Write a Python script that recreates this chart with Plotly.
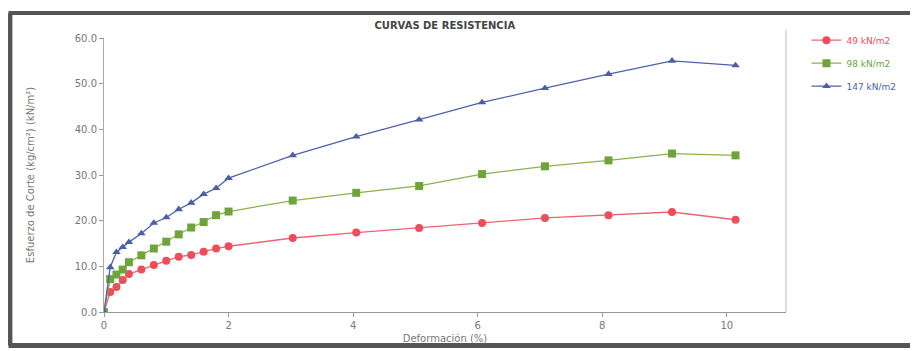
import plotly.graph_objects as go

# Deformación (%) for each series
x_vals = [0, 0.1, 0.2, 0.3, 0.4, 0.6, 0.8, 1.0, 1.2, 1.4, 1.6, 1.8, 2.0,
          3.03, 4.05, 5.06, 6.07, 7.08, 8.1, 9.12, 10.14]

# Esfuerzo de corte for each normal stress
s49 = [0, 4.4, 5.5, 7.0, 8.3, 9.3, 10.3, 11.2, 12.1, 12.5, 13.2, 13.9, 14.4,
       16.2, 17.4, 18.4, 19.5, 20.6, 21.2, 21.9, 20.2]
s98 = [0, 7.2, 8.2, 9.3, 10.9, 12.4, 13.9, 15.4, 17.0, 18.5, 19.7, 21.2, 22.0,
       24.4, 26.1, 27.6, 30.2, 31.9, 33.2, 34.7, 34.3]
s147 = [0, 9.8, 13.1, 14.2, 15.3, 17.2, 19.5, 20.7, 22.5, 23.9, 25.8, 27.1, 29.3,
        34.3, 38.4, 42.1, 45.9, 49.0, 52.1, 55.0, 54.0]

series_names = ["49 kN/m2", "98 kN/m2", "147 kN/m2"]
x_ticks = [0, 2, 4, 6, 8, 10]
y_ticks = [0, 10, 20, 30, 40, 50, 60]

styles = [
    dict(line="#ec6470", marker="#ee4d5a", symbol="circle", size=8),
    dict(line="#8ab34a", marker="#6ea43a", symbol="square", size=8),
    dict(line="#4d62ad", marker="#4a5fa8", symbol="triangle-up", size=7.5),
]

fig = go.Figure()
for i, (name, ys) in enumerate(zip(series_names, [s49, s98, s147])):
    st = styles[i]
    fig.add_trace(go.Scatter(
        x=x_vals, y=ys, mode="lines+markers",
        name=f"<span style='color:{st['marker']}'>{name}</span>",
        legendgroup=f"g{i}",
        line=dict(color=st["line"], width=1.3),
        marker=dict(color=st["marker"], symbol=st["symbol"], size=st["size"]),
    ))

fig.update_layout(
    width=910, height=343,
    margin=dict(l=96, r=132, t=30, b=39, autoexpand=False),
    paper_bgcolor="white", plot_bgcolor="white",
    font=dict(family="DejaVu Sans", size=10, color="#777"),
    title=dict(text="<b>CURVAS DE RESISTENCIA</b>", x=0.48, xanchor="center",
               y=0.95, yanchor="middle", automargin=False,
               font=dict(family="DejaVu Sans", size=10, color="#444")),
    showlegend=True,
    legend=dict(x=1.03, y=1.045, xanchor="left", yanchor="top",
                font=dict(family="DejaVu Sans", size=9, color="#777"),
                tracegroupgap=4, itemwidth=30, bgcolor="rgba(0,0,0,0)"),
    xaxis=dict(range=[0, 10.95], tickvals=x_ticks, ticktext=[str(t) for t in x_ticks],
               automargin=False,
               showgrid=False, zeroline=False, showline=True, linecolor="#999",
               linewidth=1, ticks="outside", ticklen=4, tickcolor="#999",
               title=dict(text="Deformación (%)", standoff=4,
                          font=dict(size=10, color="#777"))),
    yaxis=dict(range=[0, 60], tickvals=y_ticks, ticktext=[f"{t:.1f}" for t in y_ticks],
               automargin=False,
               showgrid=False, zeroline=False, showline=True, linecolor="#aaa",
               linewidth=1, ticks="outside", ticklen=4, tickcolor="#999",
               title=dict(text="Esfuerzo de Corte (kg/cm²) (kN/m²)", standoff=38,
                          font=dict(size=10, color="#777"))),
    shapes=[
        # right border of plot area
        dict(type="line", xref="paper", yref="paper", x0=1, x1=1, y0=0, y1=1.03,
             line=dict(color="#bbb", width=1)),
        # scanned dark frame
        dict(type="line", xref="paper", yref="paper", x0=-0.14, x1=1.2,
             y0=1.091, y1=1.091, line=dict(color="#555", width=4)),
        dict(type="line", xref="paper", yref="paper", x0=-0.138, x1=-0.138,
             y0=-0.122, y1=1.091, line=dict(color="#555", width=5)),
        dict(type="line", xref="paper", yref="paper", x0=-0.14, x1=1.2,
             y0=-0.122, y1=-0.122, line=dict(color="#555", width=5)),
    ],
)

fig.write_html("out.html")
